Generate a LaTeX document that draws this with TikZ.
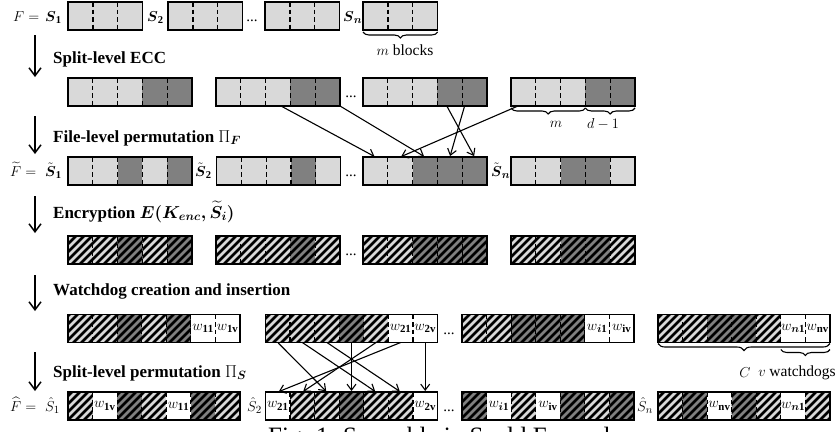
\documentclass[tikz,border=0pt]{standalone}
\usepackage{amsmath}
\usepackage{fontspec}
\setmainfont{Liberation Serif}
\usetikzlibrary{calc,arrows.meta,decorations.pathreplacing}

\definecolor{cL}{RGB}{217,217,217}
\definecolor{cD}{RGB}{128,128,128}
\definecolor{cW}{RGB}{255,255,255}

\def\bh{28}
\def\whitename{cW}

\tikzset{
  lab/.style={inner sep=0pt, font=\fontsize{15}{18}\selectfont},
  steptext/.style={inner sep=0pt, anchor=base west, font=\fontsize{17}{20}\selectfont\bfseries},
  wlab/.style={inner sep=0pt, font=\fontsize{15.5}{18}\selectfont},
  sepline/.style={line width=1.2pt, dash pattern=on 4.5pt off 3pt},
  boxline/.style={line width=1.4pt},
  stripe/.style={line width=2.6pt, black},
  vflow/.style={line width=1.5pt, -{Straight Barb[length=8pt,width=12pt]}},
  perm/.style={line width=1.1pt, shorten >=1pt, -{Straight Barb[length=6pt,width=9pt]}},
  brc/.style={decorate, decoration={brace, mirror, amplitude=#1}, line width=1.1pt},
}

% name, x, ytop, cellwidth, n, types, hatch
\newcommand{\cellbox}[7]{%
  \node[inner sep=0pt, outer sep=0pt, minimum width={#5*#4pt}, minimum height={\bh pt}, anchor=north west] (#1) at (#2,#3) {};
  \foreach \ct [count=\ci] in {#6} {%
    \pgfmathsetmacro{\xa}{#2+(\ci-1)*#4}%
    \fill[fill=\ct] (\xa,#3) rectangle ++(#4,-\bh);
    \coordinate (#1-\ci) at (\xa+#4/2,#3-\bh/2);
    \coordinate (#1-\ci-t) at (\xa+#4/2,#3);
    \coordinate (#1-\ci-b) at (\xa+#4/2,#3-\bh);
    \ifnum#7=1\relax
      \ifx\ct\whitename\else
        \begin{scope}
          \clip (\xa,#3) rectangle ++(#4,-\bh);
          \pgfmathtruncatemacro{\ka}{floor((\xa-#3)/8)-1}%
          \pgfmathtruncatemacro{\kb}{ceil((\xa+#4-#3+\bh)/8)+1}%
          \foreach \k in {\ka,...,\kb} {\draw[stripe] ({8*\k+#3-\bh-2},#3-\bh-2) -- ++(\bh+4,\bh+4);}
        \end{scope}
      \fi
    \fi
  }%
  \foreach \ci in {2,...,#5} {%
    \pgfmathsetmacro{\xa}{#2+(\ci-1)*#4}%
    \draw[sepline] (\xa,#3) -- ++(0,-\bh);
  }%
  \draw[boxline] (#1.north west) rectangle (#1.south east);
}

\begin{document}
\begin{tikzpicture}[x=1pt,y=1pt]
\useasboundingbox (0,0) rectangle (837,-431);

% ---------- row 1
\cellbox{r1b1}{68}{-2}{24.9}{3}{cL,cL,cL}{0}
\cellbox{r1b2}{168}{-2}{24.9}{3}{cL,cL,cL}{0}
\cellbox{r1b3}{265}{-2}{24.9}{3}{cL,cL,cL}{0}
\cellbox{r1b4}{363}{-2}{24.9}{3}{cL,cL,cL}{0}
\node[lab, anchor=base west] (F1) at (13,-21) {$F =$};
\node[lab, anchor=base west] (S11) at (45,-21) {$\boldsymbol{S}_{\mathbf{1}}$};
\node[lab, anchor=base west] (S12) at (147,-21) {$\boldsymbol{S}_{\mathbf{2}}$};
\node[lab, anchor=base west] (S1n) at (343,-21) {$\boldsymbol{S}_{\boldsymbol{n}}$};
\node[lab, anchor=base] (dots1) at (252,-21) {...};
\draw[brc=6pt] ([yshift=-2pt]r1b4.south west) -- ([yshift=-2pt]r1b4.south east);
\node[lab, font=\fontsize{15.5}{18}\selectfont] (mblk) at (405,-50) {$m$ blocks};

% ---------- step 1
\coordinate (a1s) at (35,-35); \coordinate (a1e) at (35,-77);
\draw[vflow] (a1s) -- (a1e);
\node[steptext] (t1) at (53,-63) {Split-level ECC};

% ---------- row 2
\cellbox{r2b1}{68}{-78}{24.8}{5}{cL,cL,cL,cD,cD}{0}
\cellbox{r2b2}{216}{-78}{24.8}{5}{cL,cL,cL,cD,cD}{0}
\cellbox{r2b3}{363}{-78}{24.8}{5}{cL,cL,cL,cD,cD}{0}
\cellbox{r2b4}{511}{-78}{24.8}{5}{cL,cL,cL,cD,cD}{0}
\node[lab, anchor=base] (dots2) at (351,-97) {...};
\coordinate (r2b4m) at ($(r2b4.south west)!0.6!(r2b4.south east)$);
\draw[brc=6pt] ([yshift=-2pt]r2b4.south west) -- ([yshift=-2pt]r2b4m);
\draw[brc=6pt] ([yshift=-2pt]r2b4m) -- ([yshift=-2pt]r2b4.south east);
\node[lab, font=\fontsize{15.5}{18}\selectfont] (mlab) at (556,-124) {$m$};
\node[lab, font=\fontsize{15.5}{18}\selectfont] (dlab) at (603,-124) {$d-1$};

% ---------- step 2
\coordinate (a2s) at (35,-116); \coordinate (a2e) at (35,-154);
\draw[vflow] (a2s) -- (a2e);
\node[steptext] (t2) at (53,-142) {File-level permutation \mdseries$\Pi_{\boldsymbol{F}}$};

% ---------- row 3
\cellbox{r3b1}{68}{-157}{24.8}{5}{cL,cL,cD,cL,cD}{0}
\cellbox{r3b2}{216.5}{-157}{24.8}{5}{cL,cL,cL,cD,cL}{0}
\cellbox{r3b3}{363}{-157}{24.8}{5}{cL,cL,cD,cD,cD}{0}
\cellbox{r3b4}{511}{-157}{24.8}{5}{cL,cL,cD,cD,cL}{0}
\node[lab, anchor=base west] (F3) at (10,-176) {$\widetilde{F} =$};
\node[lab, anchor=base west] (S31) at (45,-176) {$\tilde{\boldsymbol{S}}_{\mathbf{1}}$};
\node[lab, anchor=base west] (S32) at (195,-176) {$\tilde{\boldsymbol{S}}_{\mathbf{2}}$};
\node[lab, anchor=base west] (S3n) at (491,-176) {$\tilde{\boldsymbol{S}}_{\boldsymbol{n}}$};
\node[lab, anchor=base] (dots3) at (351,-176) {...};

% permutation arrows row2 -> row3
\draw[perm] ([xshift=3pt]r2b2-3-b) -- (r3b3-1-t);
\draw[perm] (r2b2.south east) -- (r3b3-3-t);
\draw[perm] ([xshift=-3pt]r2b3-4-b) -- (r3b3-5-t);
\draw[perm] ([xshift=-10pt]r2b3-5-b) -- (r3b3-4-t);
\draw[perm] ([xshift=7pt]r2b4.south west) -- (r3b3-2-t);

% ---------- step 3
\coordinate (a3s) at (35,-196); \coordinate (a3e) at (35,-233);
\draw[vflow] (a3s) -- (a3e);
\node[steptext] (t3) at (53,-218) {Encryption $\boldsymbol{E(K_{enc},\widetilde{S}_i)}$};

% ---------- row 4
\cellbox{r4b1}{68}{-236}{24.8}{5}{cL,cL,cD,cL,cD}{1}
\cellbox{r4b2}{216}{-236}{24.8}{5}{cL,cL,cL,cD,cL}{1}
\cellbox{r4b3}{363}{-236}{24.8}{5}{cL,cL,cD,cD,cD}{1}
\cellbox{r4b4}{511}{-236}{24.8}{5}{cL,cL,cD,cD,cL}{1}
\node[lab, anchor=base] (dots4) at (351,-255) {...};

% ---------- step 4
\coordinate (a4s) at (35,-275); \coordinate (a4e) at (35,-311);
\draw[vflow] (a4s) -- (a4e);
\node[steptext] (t4) at (53,-295) {Watchdog creation and insertion};

% ---------- row 5
\cellbox{r5b1}{68}{-314.5}{24.57}{7}{cL,cL,cD,cL,cD,cW,cW}{1}
\cellbox{r5b2}{265.5}{-314.5}{24.57}{7}{cL,cL,cL,cD,cL,cW,cW}{1}
\cellbox{r5b3}{462}{-314.5}{24.57}{7}{cL,cL,cD,cD,cD,cW,cW}{1}
\cellbox{r5b4}{658}{-314.5}{24.57}{7}{cL,cL,cD,cD,cL,cW,cW}{1}
\node[lab, anchor=base] (dots5) at (449,-334) {...};
\node[wlab] (w5a) at (r5b1-6) {$w_{\mathbf{11}}$};
\node[wlab] (w5b) at (r5b1-7) {$w_{\mathbf{1v}}$};
\node[wlab] (w5c) at (r5b2-6) {$w_{\mathbf{21}}$};
\node[wlab] (w5d) at (r5b2-7) {$w_{\mathbf{2v}}$};
\node[wlab] (w5e) at (r5b3-6) {$w_{\boldsymbol{i}\mathbf{1}}$};
\node[wlab] (w5f) at (r5b3-7) {$w_{\mathbf{iv}}$};
\node[wlab] (w5g) at (r5b4-6) {$w_{\boldsymbol{n}\mathbf{1}}$};
\node[wlab] (w5h) at (r5b4-7) {$w_{\mathbf{nv}}$};
\draw[brc=7pt] ([yshift=-1pt]r5b4.south west) -- ([yshift=-1pt]r5b4.south east);
\coordinate (r5b4w) at ($(r5b4.south west)!5/7!(r5b4.south east)$);
\draw[brc=6pt] ([yshift=-7pt]r5b4w) -- ([yshift=-7pt]r5b4.south east);
\node[lab, font=\fontsize{15.5}{18}\selectfont] (Clab) at (745,-373) {$C$};
\node[lab, font=\fontsize{15.5}{18}\selectfont] (vlab) at (797,-373) {$v$ watchdogs};

% ---------- step 5
\coordinate (a5s) at (35,-352); \coordinate (a5e) at (35,-391);
\draw[vflow] (a5s) -- (a5e);
\node[steptext] (t5) at (53,-377) {Split-level permutation \mdseries$\Pi_{\boldsymbol{S}}$};

% ---------- row 6
\cellbox{r6b1}{68}{-392}{24.57}{7}{cL,cW,cD,cL,cW,cD,cL}{1}
\cellbox{r6b2}{265.5}{-392}{24.57}{7}{cW,cL,cL,cD,cL,cL,cW}{1}
\cellbox{r6b3}{462}{-392}{24.57}{7}{cD,cW,cL,cW,cD,cL,cD}{1}
\cellbox{r6b4}{658}{-392}{24.57}{7}{cL,cD,cW,cD,cL,cW,cL}{1}
\node[lab, anchor=base west] (F6) at (10,-411) {$\widehat{F} =$};
\node[lab, anchor=base west] (S61) at (45,-411) {$\hat{S}_1$};
\node[lab, anchor=base west] (S62) at (247,-411) {$\hat{S}_2$};
\node[lab, anchor=base west] (S6n) at (637,-411) {$\hat{S}_n$};
\node[lab, anchor=base] (dots6) at (449,-411) {...};
\node[wlab] (w6a) at (r6b1-2) {$w_{\mathbf{1v}}$};
\node[wlab] (w6b) at (r6b1-5) {$w_{\mathbf{11}}$};
\node[wlab] (w6c) at (r6b2-1) {$w_{\mathbf{21}}$};
\node[wlab] (w6d) at (r6b2-7) {$w_{\mathbf{2v}}$};
\node[wlab] (w6e) at (r6b3-2) {$w_{\boldsymbol{i}\mathbf{1}}$};
\node[wlab] (w6f) at (r6b3-4) {$w_{\mathbf{iv}}$};
\node[wlab] (w6g) at (r6b4-3) {$w_{\mathbf{nv}}$};
\node[wlab] (w6h) at (r6b4-6) {$w_{\boldsymbol{n}\mathbf{1}}$};

% permutation arrows row5 -> row6
\draw[perm] (r5b2-1-b) -- (r6b2-3-t);
\draw[perm] (r5b2-2-b) -- (r6b2-5-t);
\draw[perm] (r5b2-3-b) -- (r6b2-6-t);
\draw[perm] (r5b2-4-b) -- (r6b2-4-t);
\draw[perm] (r5b2-6-b) -- (r6b2-1-t);
\draw[perm] (r5b2-5-b) -- (r6b2-2-t);
\draw[perm] (r5b2-7-b) -- (r6b2-7-t);

% ---------- caption (cut off at bottom)
\node[inner sep=0pt, anchor=base west, font=\fontsize{25}{29}\selectfont] (cap) at (268,-444) {Fig. 1. Scramble in Scold Example};
\end{tikzpicture}
\end{document}
